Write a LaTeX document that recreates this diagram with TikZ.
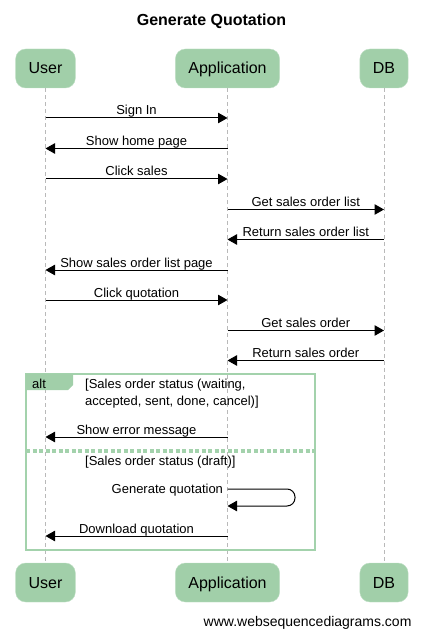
\documentclass[tikz,border=0pt]{standalone}
\usepackage{fontspec}
\setmainfont{Liberation Sans}
\usepackage{tikz}
\definecolor{boxgreen}{RGB}{161,207,169}
\definecolor{framegreen}{RGB}{163,210,172}
\definecolor{lifegray}{RGB}{185,185,185}
\usetikzlibrary{arrows.meta}

\begin{document}
\begin{tikzpicture}[x=1pt,y=-1pt,
    actor/.style={fill=boxgreen, draw=framegreen!70!white, rounded corners=10pt, minimum height=39pt, inner xsep=13pt,
        text height=12.5pt, text depth=1.5pt, font=\fontsize{16}{19}\selectfont},
    msg/.style={line width=1pt, -{Triangle[length=9.5pt,width=10.5pt]}},
    lifeline/.style={draw=lifegray, dash pattern=on 4pt off 3pt, line width=0.8pt},
    lbl/.style={font=\fontsize{13}{17}\selectfont}]
    \useasboundingbox (0,0) rectangle (423,636);
    % Title
    \node[font=\bfseries\fontsize{16}{19}\selectfont] (title) at (211.5,21.5) {Generate Quotation};
    % Participants - top and bottom, with lifelines
    \foreach \n/\x/\txt in {user/45.5/User, app/227.5/Application, db/384/DB} {
        \node[actor] (\n) at (\x,68.5) {\txt};
        \node[actor] (\n-b) at (\x,582.5) {\txt};
        \draw[lifeline] (\n) -- (\n-b);
    }
    % Plain messages
    \foreach \y/\a/\b/\txt in {118/user/app/Sign In, 148.5/app/user/Show home page, 179/user/app/Click sales,
        209.5/app/db/Get sales order list, 239.5/db/app/Return sales order list, 270/app/user/Show sales order list page,
        300/user/app/Click quotation, 330.5/app/db/Get sales order, 360.5/db/app/Return sales order} {
        \draw[msg] (\a |- 0,\y) -- node[lbl, anchor=base, yshift=3pt] {\txt} (\b |- 0,\y);
    }
    % alt frame
    \draw[framegreen, line width=1.5pt] (26,374) rectangle (315,550);
    \fill[boxgreen] (26,374) -- (73,374) -- (73,385) -- (68,390) -- (26,390) -- cycle;
    \node[lbl, anchor=west, inner sep=0] (alt) at (32,384) {alt};
    \node[lbl, anchor=north west, align=left, inner sep=0] (guard1) at (85,378.5) {[Sales order status (waiting,\\accepted, sent, done, cancel)]};
    \draw[framegreen, line width=3.2pt, dash pattern=on 4pt off 2.5pt] (26,451) -- (315,451);
    \node[lbl, anchor=base west, inner sep=0] (guard2) at (85,465) {[Sales order status (draft)]};
    \draw[msg] (app |- 0,437) -- node[lbl, anchor=base, yshift=3pt] {Show error message} (user |- 0,437);
    % self message
    \draw[msg, rounded corners=8pt] (app |- 0,489) node[lbl, left, inner sep=4pt, yshift=-1.5pt] {Generate quotation} -- (295,489) -- (295,506) -- (app |- 0,506);
    \draw[msg] (app |- 0,536) -- node[lbl, anchor=base, yshift=3pt] {Download quotation} (user |- 0,536);
    % Footer
    \node[font=\fontsize{14}{17}\selectfont, anchor=east] (site) at (415,623) {www.websequencediagrams.com};
\end{tikzpicture}
\end{document}
